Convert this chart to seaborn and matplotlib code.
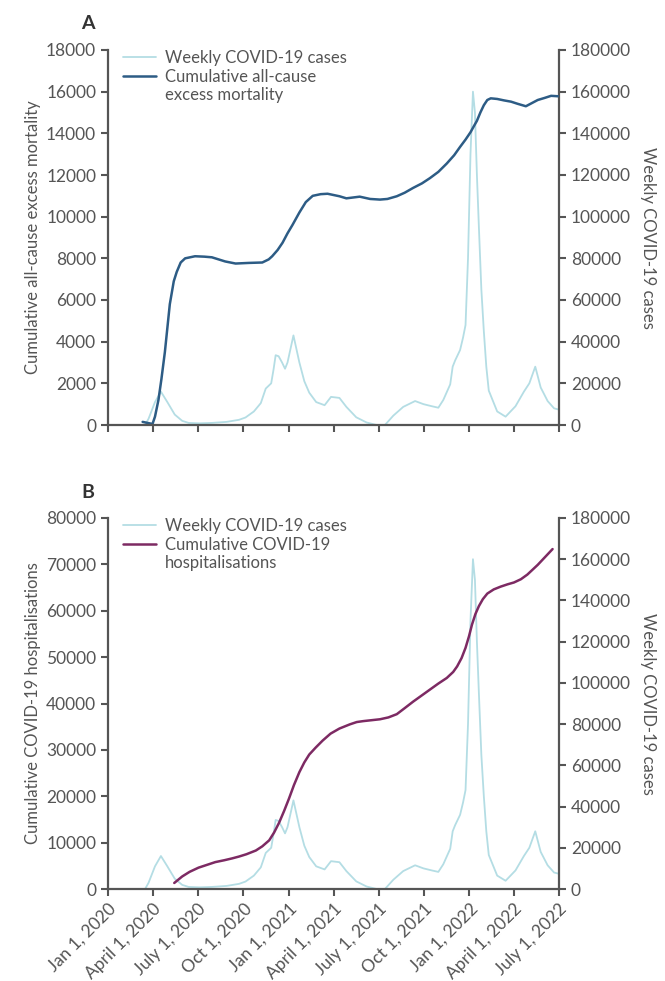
import numpy as np
import pandas as pd
import matplotlib
matplotlib.use("Agg")
import matplotlib.pyplot as plt
from matplotlib.lines import Line2D
import seaborn as sns

# days since Jan 1, 2020 and values
case_days = [35, 60, 75, 82, 95, 107, 120, 135, 150, 163, 185, 210, 240, 265, 278, 295,
             309, 319, 330, 335, 339, 345, 352, 358, 363, 375, 387, 397, 407, 421, 438,
             451, 468, 482, 502, 523, 543, 560, 577, 597, 621, 638, 655, 668, 678, 692,
             697, 702, 712, 718, 723, 728, 733, 738, 742, 746, 750, 755, 760, 765, 770,
             787, 804, 824, 841, 852, 864, 875, 889, 902, 910]
weekly_cases = [0, 0, 0, 3000, 11000, 16000, 11000, 5000, 2000, 1000, 800, 1000, 1500,
                2500, 3600, 6500, 10500, 17500, 20000, 27000, 33500, 33000, 30000, 27000,
                30000, 43000, 30000, 21000, 15500, 11000, 9500, 13500, 13000, 8700, 3700,
                1200, 0, 0, 4500, 8700, 11500, 10000, 9000, 8300, 12000, 19500, 28000,
                31000, 36000, 42000, 48000, 80000, 130000, 160000, 150000, 120000, 95000,
                65000, 45000, 28000, 16500, 6500, 4000, 9000, 16000, 20000, 28000, 18000,
                11500, 8000, 7500]

mort_days = [70, 80, 90, 95, 102, 108, 115, 125, 133, 139, 147, 156, 176, 195, 210, 237,
             258, 285, 312, 325, 332, 343, 353, 363, 373, 387, 400, 414, 430, 444, 468,
             482, 509, 530, 550, 565, 584, 600, 617, 635, 651, 668, 685, 700, 712, 723,
             733, 740, 746, 753, 760, 767, 774, 787, 801, 815, 828, 845, 857, 869, 883,
             896, 910]
excess_mortality = [150, 100, 50, 400, 1200, 2200, 3500, 5800, 6900, 7350, 7800, 8000,
                    8100, 8080, 8050, 7850, 7750, 7780, 7800, 7950, 8100, 8400, 8750, 9200,
                    9600, 10200, 10700, 11000, 11080, 11100, 10980, 10880, 10960, 10850,
                    10820, 10850, 10980, 11150, 11380, 11600, 11850, 12150, 12550, 12950,
                    13350, 13700, 14050, 14350, 14600, 15000, 15350, 15600, 15680, 15650,
                    15580, 15520, 15420, 15300, 15450, 15600, 15700, 15800, 15780]

hosp_days = [134, 150, 165, 183, 200, 217, 235, 251, 265, 280, 299, 312, 326, 336, 346,
             356, 366, 376, 387, 397, 407, 420, 434, 450, 468, 489, 503, 516, 533, 550,
             567, 584, 600, 617, 634, 651, 668, 685, 698, 706, 715, 723, 730, 736, 743,
             750, 758, 767, 780, 794, 808, 821, 835, 848, 858, 869, 884, 899]
hospitalisations = [1300, 2700, 3700, 4600, 5200, 5800, 6200, 6600, 7000, 7500, 8300,
                    9200, 10500, 12200, 14300, 16800, 19500, 22400, 25200, 27300, 29000,
                    30500, 32000, 33500, 34600, 35500, 36000, 36200, 36400, 36600, 37000,
                    37700, 39000, 40400, 41700, 43000, 44300, 45500, 46800, 48000, 49800,
                    52000, 54500, 57000, 59300, 61000, 62500, 63700, 64600, 65200, 65700,
                    66100, 66800, 67800, 68800, 69900, 71600, 73300]

tick_dates = ["2020-01-01", "2020-04-01", "2020-07-01", "2020-10-01", "2021-01-01",
              "2021-04-01", "2021-07-01", "2021-10-01", "2022-01-01", "2022-04-01",
              "2022-07-01"]
tick_labels = ["Jan 1, 2020", "April 1, 2020", "July 1, 2020", "Oct 1, 2020",
               "Jan 1, 2021", "April 1, 2021", "July 1, 2021", "Oct 1, 2021",
               "Jan 1, 2022", "April 1, 2022", "July 1, 2022"]

base = pd.Timestamp("2020-01-01")
cases = pd.DataFrame({"date": base + pd.to_timedelta(case_days, unit="D"), "cases": weekly_cases})
mort = pd.DataFrame({"date": base + pd.to_timedelta(mort_days, unit="D"), "value": excess_mortality})
hosp = pd.DataFrame({"date": base + pd.to_timedelta(hosp_days, unit="D"), "value": hospitalisations})

sns.set_style("ticks")
grey = "#555555"
plt.rcParams["font.family"] = ["Lato", "DejaVu Sans"]
plt.rcParams.update({"font.size": 12.5, "text.color": grey, "axes.labelcolor": grey,
                     "xtick.color": grey, "ytick.color": grey, "axes.edgecolor": grey,
                     "axes.linewidth": 1.6, "xtick.major.width": 1.5, "ytick.major.width": 1.5,
                     "xtick.major.size": 5, "ytick.major.size": 5})

case_col = "#b4dde4"
mort_col = "#2d5c85"
hosp_col = "#7d2a63"

fig = plt.figure(figsize=(6.65, 9.81), dpi=100)
axA = fig.add_axes([108 / 665, 1 - 425 / 981, 451 / 665, 375 / 981])
axB = fig.add_axes([108 / 665, 1 - 889 / 981, 451 / 665, 371 / 981])

xlim = (pd.Timestamp("2020-01-01"), pd.Timestamp("2022-07-01"))
ticks = pd.to_datetime(tick_dates)


def panel(ax, df, color, ylabel, ymax, label2, letter, show_x):
    ax2 = ax.twinx()
    sns.lineplot(data=cases, x="date", y="cases", ax=ax2, color=case_col, lw=1.3)
    sns.lineplot(data=df, x="date", y="value", ax=ax, color=color, lw=1.8)
    ax.set_zorder(ax2.get_zorder() + 1)
    ax.patch.set_visible(False)

    ax.set_xlim(xlim)
    ax.set_ylim(0, ymax)
    ax.set_yticks(np.linspace(0, ymax, 10 if ymax == 18000 else 9))
    ax2.set_ylim(0, 180000)
    ax2.set_yticks(np.arange(0, 180001, 20000))
    ax.set_xticks(ticks)
    if show_x:
        ax.set_xticklabels(tick_labels, rotation=45, ha="right", rotation_mode="anchor")
    else:
        ax.set_xticklabels([])
    ax.set_xlabel("")
    ax2.set_xlabel("")
    ax.set_ylabel(ylabel, fontsize=12)
    ax2.set_ylabel("Weekly COVID-19 cases", rotation=270, labelpad=18, fontsize=12)
    ax.spines["top"].set_visible(False)
    ax.spines["right"].set_visible(False)
    for s in ["top", "left", "bottom"]:
        ax2.spines[s].set_visible(False)
    ax.yaxis.set_major_formatter(matplotlib.ticker.FormatStrFormatter("%d"))
    ax2.yaxis.set_major_formatter(matplotlib.ticker.FormatStrFormatter("%d"))

    first, second = label2
    handles = [Line2D([], [], color=case_col, lw=1.3),
               Line2D([], [], color=color, lw=1.8),
               Line2D([], [], color="none")]
    ax.legend(handles, ["Weekly COVID-19 cases", first, second], loc="upper left",
              bbox_to_anchor=(0.0, 1.04), frameon=False, handlelength=2.0,
              handletextpad=0.5, labelspacing=0.15, fontsize=12, labelcolor=grey)
    ax.text(-0.045, 1.07, letter, transform=ax.transAxes, fontsize=14,
            fontweight="bold", color="#333333", ha="center", va="center")


panel(axA, mort, mort_col, "Cumulative all-cause excess mortality", 18000,
      ("Cumulative all-cause", "excess mortality"), "A", False)
panel(axB, hosp, hosp_col, "Cumulative COVID-19 hospitalisations", 80000,
      ("Cumulative COVID-19", "hospitalisations"), "B", True)

fig.savefig("out.png", dpi=100)
